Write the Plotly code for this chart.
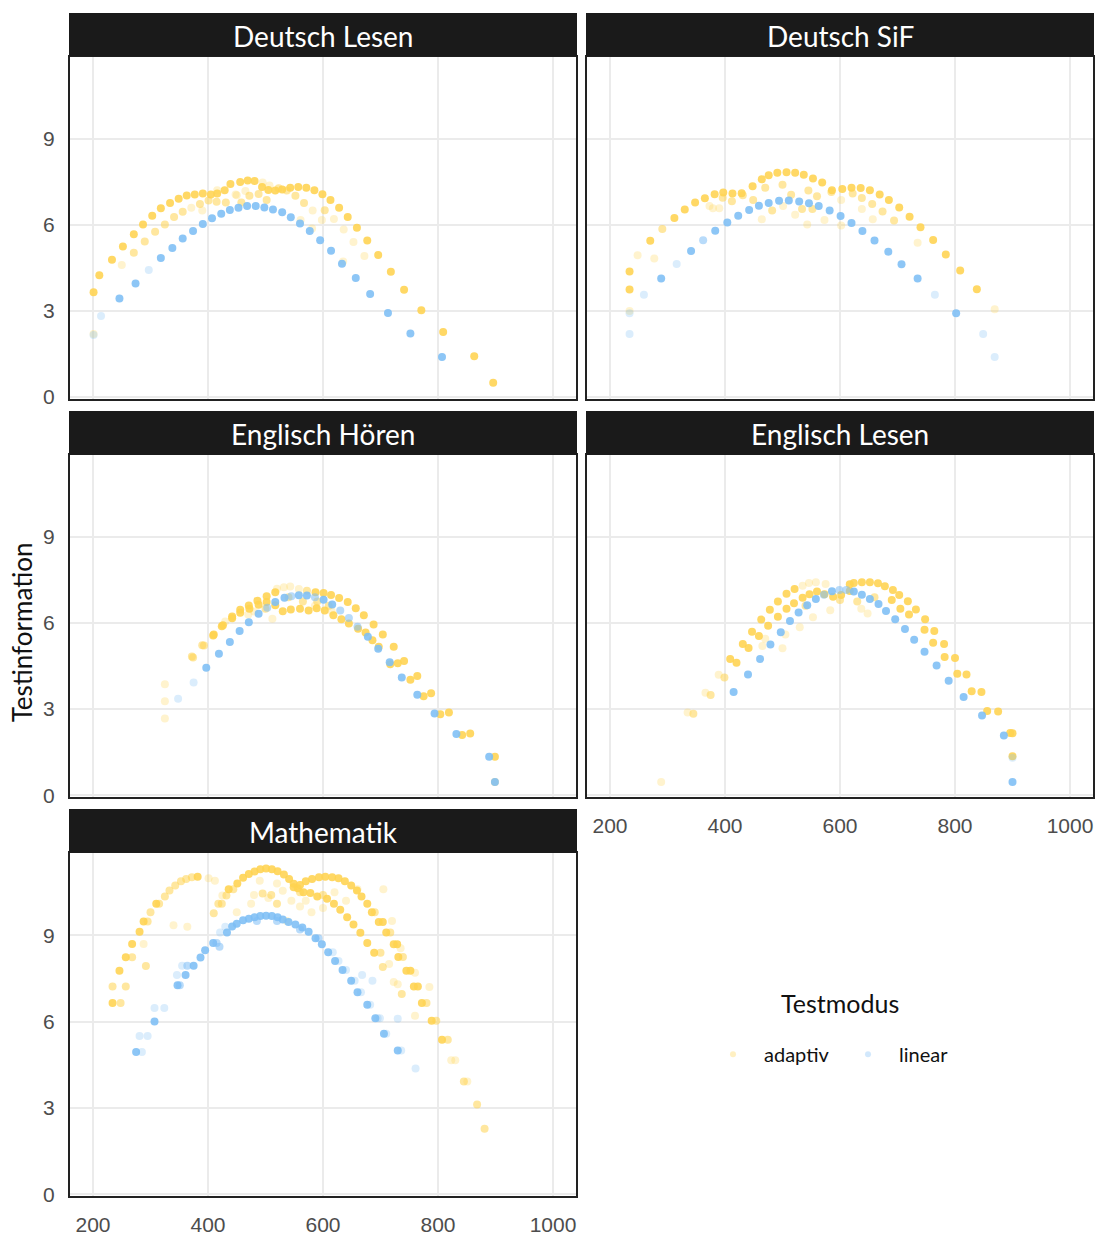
import plotly.graph_objects as go

# Testinformation je Testmodus und Fach: (Skalenwert, Information, Gewicht)
deutsch_lesen_adaptiv = [
    (201, 3.65, 3), (211, 4.25, 3), (233, 4.79, 3), (252, 5.25, 3), (271, 5.68, 3), (287, 6.02, 3),
    (303, 6.32, 3), (318, 6.58, 3), (334, 6.77, 3), (349, 6.91, 3), (363, 7.03, 3), (377, 7.06, 3),
    (391, 7.10, 3), (405, 7.06, 3), (416, 7.10, 3), (429, 7.21, 3), (439, 7.43, 3), (456, 7.50, 3),
    (469, 7.55, 3), (481, 7.53, 3), (494, 7.32, 3), (505, 7.22, 3), (517, 7.20, 3), (529, 7.24, 3),
    (543, 7.30, 3), (557, 7.32, 3), (571, 7.30, 3), (585, 7.21, 3), (599, 7.07, 3), (613, 6.87, 3),
    (628, 6.60, 3), (643, 6.28, 3), (659, 5.90, 3), (677, 5.46, 3), (696, 4.95, 3), (718, 4.37, 3),
    (741, 3.74, 3), (771, 3.03, 3), (809, 2.27, 3), (863, 1.42, 3), (896, 0.50, 3),
    (201, 2.20, 1), (250, 4.60, 1), (271, 5.03, 2), (290, 5.42, 2), (308, 5.76, 2), (325, 6.02, 2),
    (341, 6.28, 2), (356, 6.46, 2), (371, 6.60, 1), (386, 6.73, 2), (401, 6.85, 2), (415, 6.81, 2),
    (431, 6.78, 2), (448, 7.06, 1), (458, 6.78, 2), (472, 7.02, 2), (488, 7.08, 2), (502, 6.87, 2),
    (523, 7.28, 2), (537, 7.20, 2), (552, 7.02, 2), (567, 6.77, 2), (582, 6.50, 1), (603, 6.51, 2),
    (619, 6.21, 1), (636, 5.84, 1), (653, 5.41, 1), (672, 4.92, 1), (635, 4.73, 1),
    (390, 6.50, 1), (416, 7.21, 1), (450, 7.04, 1), (465, 7.18, 1), (495, 7.48, 1), (507, 7.38, 1),
    (561, 6.17, 1), (581, 5.88, 1), (598, 6.17, 1),
]
deutsch_lesen_linear = [
    (201, 2.16, 1), (214, 2.83, 1), (246, 3.44, 3), (274, 3.96, 3), (297, 4.43, 1), (318, 4.85, 3),
    (338, 5.20, 3), (356, 5.53, 3), (374, 5.79, 3), (391, 6.03, 3), (407, 6.23, 3), (423, 6.39, 3),
    (438, 6.52, 3), (453, 6.60, 3), (468, 6.66, 3), (483, 6.66, 3), (498, 6.61, 3), (513, 6.54, 3),
    (529, 6.44, 3), (544, 6.27, 3), (560, 6.05, 3), (577, 5.79, 3), (595, 5.47, 3), (614, 5.10, 3),
    (633, 4.65, 3), (657, 4.15, 3), (682, 3.59, 3), (713, 2.93, 3), (752, 2.22, 3), (807, 1.40, 3),
]

deutsch_sif_adaptiv = [
    (234, 3.75, 3), (234, 4.38, 3), (270, 5.45, 3), (291, 5.86, 2), (312, 6.24, 3), (330, 6.54, 3),
    (348, 6.78, 3), (365, 6.93, 3), (382, 7.07, 3), (397, 7.13, 3), (413, 7.10, 3), (429, 7.11, 3),
    (448, 7.35, 3), (464, 7.59, 3), (476, 7.73, 3), (491, 7.82, 3), (507, 7.84, 3), (522, 7.82, 3),
    (537, 7.75, 3), (553, 7.62, 3), (569, 7.48, 3), (586, 7.21, 3), (604, 7.25, 3), (620, 7.30, 3),
    (636, 7.29, 3), (652, 7.21, 3), (669, 7.06, 3), (685, 6.87, 3), (703, 6.61, 3), (721, 6.29, 3),
    (740, 5.92, 3), (762, 5.48, 3), (784, 4.97, 3), (809, 4.41, 3), (838, 3.76, 3), (869, 3.06, 1),
    (234, 3.00, 1), (248, 4.94, 1), (277, 4.83, 1), (373, 6.66, 1), (379, 6.58, 1), (390, 6.58, 1),
    (396, 6.95, 2), (412, 6.83, 2), (431, 7.04, 2), (449, 6.87, 2), (464, 6.20, 1), (482, 6.50, 2),
    (501, 6.66, 1), (522, 6.36, 1), (534, 6.56, 2), (543, 6.02, 1), (552, 6.56, 2), (573, 6.17, 1),
    (602, 5.98, 1), (602, 6.87, 1), (622, 7.10, 2), (638, 6.94, 2), (638, 6.56, 1), (656, 6.73, 2),
    (657, 6.20, 1), (674, 6.47, 2), (694, 6.16, 2), (735, 5.38, 1),
    (470, 7.30, 2), (500, 7.40, 2), (515, 7.05, 2), (545, 7.20, 2), (560, 7.00, 2), (585, 7.15, 2),
]
deutsch_sif_linear = [
    (234, 2.20, 1), (234, 2.92, 1), (259, 3.57, 1), (289, 4.13, 3), (316, 4.64, 1), (341, 5.09, 3),
    (362, 5.47, 2), (383, 5.80, 3), (404, 6.09, 3), (423, 6.32, 3), (442, 6.52, 3), (459, 6.67, 3),
    (476, 6.77, 3), (494, 6.84, 3), (511, 6.85, 3), (529, 6.82, 3), (546, 6.76, 3), (563, 6.66, 3),
    (582, 6.50, 3), (601, 6.31, 3), (620, 6.07, 3), (639, 5.79, 3), (660, 5.46, 3), (684, 5.07, 3),
    (707, 4.63, 3), (735, 4.13, 3), (765, 3.57, 1), (802, 2.92, 3), (849, 2.20, 1), (869, 1.40, 1),
]

englisch_hoeren_adaptiv = [
    (325, 3.87, 1), (325, 3.27, 1), (325, 2.67, 1), (372, 4.83, 2), (390, 5.23, 2), (410, 5.60, 3),
    (426, 5.92, 3), (442, 6.23, 3), (456, 6.46, 3), (471, 6.61, 3), (486, 6.78, 3), (502, 6.93, 3),
    (517, 7.07, 3), (532, 7.25, 1), (543, 7.27, 1), (558, 7.19, 1), (572, 7.13, 2), (587, 7.07, 3),
    (601, 7.05, 3), (614, 6.98, 3), (628, 6.87, 3), (643, 6.73, 3), (657, 6.52, 3), (671, 6.27, 3),
    (688, 5.95, 3), (704, 5.60, 3), (723, 5.17, 3), (741, 4.68, 3), (764, 4.15, 3), (788, 3.55, 3),
    (819, 2.88, 3), (856, 2.15, 3), (899, 1.34, 3), (899, 0.46, 2),
    (374, 4.80, 2), (393, 5.22, 2), (409, 5.57, 3), (424, 5.89, 3), (442, 6.17, 3), (456, 6.36, 3),
    (472, 6.50, 3), (488, 6.64, 3), (502, 6.73, 3), (517, 6.62, 3), (530, 6.41, 3), (544, 6.47, 3),
    (560, 6.50, 3), (575, 6.44, 3), (589, 6.52, 3), (603, 6.44, 3), (618, 6.27, 3), (632, 6.13, 3),
    (645, 5.98, 3), (661, 5.80, 3), (674, 5.67, 3), (686, 5.40, 3), (697, 5.17, 3), (717, 4.56, 3),
    (730, 4.60, 3), (752, 4.02, 3), (775, 3.45, 3), (804, 2.82, 3), (842, 2.10, 3),
    (512, 6.15, 1), (586, 6.60, 1), (615, 6.42, 1), (480, 6.40, 1), (520, 7.20, 1), (540, 6.90, 2),
    (565, 6.75, 2), (590, 6.75, 2), (610, 6.60, 2), (500, 6.50, 2), (470, 6.30, 1), (430, 6.05, 1),
]
englisch_hoeren_linear = [
    (348, 3.36, 1), (375, 3.93, 1), (397, 4.44, 3), (419, 4.93, 3), (438, 5.34, 3), (455, 5.72, 3),
    (471, 6.03, 3), (488, 6.32, 3), (503, 6.53, 2), (517, 6.73, 3), (533, 6.88, 3), (545, 6.93, 2),
    (558, 6.97, 3), (572, 6.96, 3), (586, 6.90, 2), (601, 6.81, 3), (616, 6.65, 3), (630, 6.44, 2),
    (645, 6.18, 2), (660, 5.87, 2), (678, 5.52, 3), (696, 5.10, 3), (716, 4.63, 3), (737, 4.10, 3),
    (764, 3.50, 3), (794, 2.85, 3), (832, 2.13, 3), (889, 1.34, 3), (899, 0.46, 3),
]

englisch_lesen_adaptiv = [
    (289, 0.46, 1), (335, 2.88, 1), (345, 2.84, 2), (366, 3.57, 1), (375, 3.49, 2), (389, 4.20, 1),
    (399, 4.10, 2), (409, 4.75, 3), (420, 4.62, 3), (431, 5.27, 3), (441, 5.13, 3), (447, 5.70, 3),
    (459, 5.55, 3), (463, 6.12, 3), (475, 5.91, 3), (478, 6.46, 3), (492, 6.22, 3), (492, 6.75, 3),
    (507, 6.50, 3), (507, 7.02, 3), (520, 6.69, 3), (521, 7.19, 3), (535, 6.88, 3), (535, 7.30, 1),
    (546, 7.40, 1), (558, 7.42, 1), (575, 7.36, 1), (547, 7.00, 3), (560, 7.10, 3), (573, 7.00, 3),
    (588, 6.92, 3), (602, 6.98, 3), (617, 7.12, 3), (617, 7.35, 3), (624, 7.40, 3), (638, 7.42, 3),
    (652, 7.42, 3), (666, 7.39, 3), (678, 7.28, 3), (692, 7.15, 3), (703, 6.98, 3), (718, 6.76, 3),
    (732, 6.47, 3), (748, 6.13, 3), (764, 5.72, 3), (781, 5.27, 3), (800, 4.78, 3), (820, 4.21, 3),
    (846, 3.60, 3), (875, 2.92, 3), (900, 2.16, 3), (900, 1.36, 3),
    (747, 5.77, 3), (762, 5.31, 3), (782, 4.82, 3), (804, 4.23, 3), (829, 3.62, 3), (856, 2.93, 3),
    (896, 2.17, 3), (690, 6.80, 3), (705, 6.50, 3), (720, 6.30, 3),
    (465, 5.20, 1), (500, 5.12, 1), (530, 5.85, 1), (553, 6.20, 1), (583, 6.45, 1), (637, 6.50, 1),
    (648, 6.33, 1), (540, 6.60, 2), (600, 6.80, 2), (630, 6.75, 2), (660, 6.90, 2), (470, 5.45, 1),
    (505, 5.60, 1),
]
englisch_lesen_linear = [
    (415, 3.60, 3), (440, 4.21, 3), (461, 4.75, 3), (479, 5.25, 3), (497, 5.68, 3), (513, 6.07, 3),
    (528, 6.37, 3), (543, 6.62, 3), (558, 6.84, 3), (572, 6.99, 2), (586, 7.11, 3), (599, 7.15, 2),
    (611, 7.15, 2), (624, 7.10, 3), (638, 6.99, 3), (652, 6.84, 3), (667, 6.66, 3), (680, 6.42, 3),
    (696, 6.13, 3), (713, 5.79, 3), (729, 5.42, 3), (747, 5.00, 3), (768, 4.52, 3), (789, 3.99, 3),
    (815, 3.42, 3), (847, 2.78, 3), (885, 2.08, 3), (900, 1.30, 1), (900, 0.46, 3),
]

mathematik_adaptiv = [
    (234, 6.65, 3), (248, 6.65, 2), (234, 7.22, 2), (257, 7.22, 2), (246, 7.77, 3), (257, 8.24, 3),
    (268, 8.24, 2), (268, 8.70, 3), (288, 8.70, 1), (281, 9.12, 3), (288, 9.48, 3), (295, 9.48, 2),
    (300, 9.80, 2), (310, 10.10, 3), (315, 10.10, 2), (325, 10.35, 2), (333, 10.56, 2), (343, 10.73, 2),
    (353, 10.88, 2), (362, 10.96, 2), (372, 11.02, 2), (382, 11.04, 3), (401, 10.98, 1), (412, 10.90, 1),
    (292, 7.93, 2), (340, 9.35, 1), (364, 9.30, 1),
    (410, 9.77, 2), (418, 10.10, 2), (424, 10.10, 2), (432, 10.38, 2), (436, 10.60, 3), (444, 10.60, 2),
    (451, 10.80, 3), (461, 11.00, 3), (471, 11.13, 3), (481, 11.22, 3), (491, 11.30, 3), (501, 11.32, 3),
    (511, 11.30, 3), (521, 11.23, 3), (532, 11.11, 3), (541, 10.96, 3), (549, 10.79, 3), (556, 10.64, 3),
    (566, 10.50, 3), (578, 10.47, 3), (590, 10.35, 3), (607, 10.27, 3), (619, 10.10, 3), (630, 9.89, 3),
    (642, 9.63, 3), (653, 9.38, 3), (665, 9.09, 3), (677, 8.73, 3), (689, 8.39, 3), (704, 7.90, 2),
    (723, 7.38, 1), (737, 6.96, 2),
    (549, 10.67, 3), (560, 10.75, 3), (570, 10.88, 3), (581, 10.96, 3), (593, 11.02, 3), (604, 11.04, 3),
    (616, 11.02, 3), (627, 10.98, 3), (638, 10.88, 3), (649, 10.73, 3), (659, 10.56, 3), (667, 10.35, 3),
    (677, 10.10, 3), (685, 9.80, 3), (697, 9.46, 3), (710, 9.10, 3), (723, 8.69, 3), (731, 8.25, 3),
    (745, 7.77, 3), (758, 7.22, 3), (772, 6.65, 3), (789, 6.03, 3), (807, 5.37, 3), (823, 4.66, 1),
    (845, 3.92, 2), (868, 3.12, 2), (881, 2.28, 2),
    (752, 7.77, 3), (765, 7.22, 3), (780, 6.65, 2), (797, 6.03, 2), (817, 5.37, 2), (830, 4.66, 1),
    (851, 3.92, 1), (690, 9.80, 2), (704, 9.46, 3), (717, 9.10, 2), (729, 8.69, 3), (739, 8.25, 2),
    (700, 8.39, 2), (715, 8.00, 1), (730, 7.30, 1),
    (425, 10.38, 1), (490, 10.90, 1), (505, 10.30, 1), (520, 10.80, 1), (530, 10.55, 1), (545, 10.20, 1),
    (560, 10.00, 1), (537, 9.50, 1), (580, 9.80, 1), (600, 9.95, 1), (450, 9.80, 1), (475, 10.10, 1),
    (570, 10.20, 1), (520, 10.10, 2), (510, 10.40, 2), (495, 10.45, 2), (480, 10.40, 1), (560, 10.50, 2),
    (600, 10.40, 2), (620, 10.50, 1), (640, 10.20, 1), (660, 10.60, 1), (705, 10.60, 1), (720, 9.50, 1),
    (735, 8.55, 1), (760, 7.70, 1), (760, 6.20, 1), (785, 7.20, 1),
]
mathematik_linear = [
    (275, 4.94, 3), (285, 4.94, 1), (281, 5.50, 1), (295, 5.50, 1), (307, 6.00, 3), (307, 6.47, 1),
    (324, 6.47, 1), (347, 7.26, 3), (351, 7.26, 2), (346, 7.62, 1), (361, 7.62, 3), (355, 7.94, 1),
    (364, 7.94, 2), (375, 7.94, 3), (387, 8.23, 3), (395, 8.48, 3), (409, 8.73, 3), (415, 8.73, 2),
    (421, 9.10, 1), (433, 9.10, 3), (442, 9.31, 3), (450, 9.40, 3), (461, 9.52, 3), (471, 9.58, 3),
    (481, 9.63, 3), (491, 9.67, 3), (501, 9.68, 3), (511, 9.67, 3), (521, 9.63, 3), (530, 9.55, 3),
    (540, 9.46, 3), (552, 9.38, 3), (564, 9.27, 3), (575, 9.12, 3), (587, 8.90, 3), (592, 8.90, 2),
    (598, 8.69, 3), (609, 8.41, 3), (621, 8.11, 3), (627, 8.11, 1), (634, 7.79, 3), (640, 7.79, 1),
    (649, 7.42, 3), (655, 7.42, 1), (660, 7.02, 3), (666, 7.02, 1), (677, 6.59, 3), (682, 6.59, 1),
    (691, 6.12, 3), (695, 6.12, 1), (699, 6.12, 1), (706, 5.58, 3), (710, 5.58, 1), (730, 5.00, 3),
    (736, 5.00, 1), (761, 4.37, 1), (730, 6.10, 1), (617, 8.41, 1), (668, 7.62, 1), (686, 7.42, 1),
    (420, 8.60, 2), (430, 9.30, 1), (485, 9.50, 2), (520, 9.50, 2), (560, 9.20, 2),
]

faecher = ["Deutsch Lesen", "Deutsch SiF", "Englisch Hören", "Englisch Lesen", "Mathematik"]
daten = {
    "Deutsch Lesen": (deutsch_lesen_adaptiv, deutsch_lesen_linear),
    "Deutsch SiF": (deutsch_sif_adaptiv, deutsch_sif_linear),
    "Englisch Hören": (englisch_hoeren_adaptiv, englisch_hoeren_linear),
    "Englisch Lesen": (englisch_lesen_adaptiv, englisch_lesen_linear),
    "Mathematik": (mathematik_adaptiv, mathematik_linear),
}
x_ticks = [200, 400, 600, 800, 1000]
y_ticks = [0, 3, 6, 9]

W, H = 1101, 1237
GELB = (255, 211, 80)
BLAU = (125, 190, 245)
ALPHA = {1: 0.28, 2: 0.55, 3: 0.88}
TEXT_FONT = "Lato, Inter"
TICK_FONT = dict(family="Liberation Sans, Arial", size=21, color="#4d4d4d")

# panel boxes in pixels: columns (left, right), rows (strip top, plot top, plot bottom)
spalten = [(70, 576), (587, 1093)]
zeilen = [(13, 57, 402), (414, 458, 803), (815, 859, 1205)]
positionen = [(0, 0), (0, 1), (1, 0), (1, 1), (2, 0)]


def px(v):
    return v / W


def py(v):
    return 1 - v / H


def rgba(c, a):
    return f"rgba({c[0]},{c[1]},{c[2]},{a})"


fig = go.Figure()
layout = {}
shapes = []
annotations = []

for i, fach in enumerate(faecher):
    r, c = positionen[i]
    left, right = spalten[c]
    s_top, p_top, p_bot = zeilen[r]
    suffix = "" if i == 0 else str(i + 1)
    xa, ya = "x" + suffix, "y" + suffix

    adaptiv, linear = daten[fach]
    for pts, col in ((adaptiv, GELB), (linear, BLAU)):
        fig.add_trace(go.Scatter(
            x=[p[0] for p in pts], y=[p[1] for p in pts], mode="markers",
            marker=dict(size=8, color=[rgba(col, ALPHA[p[2]]) for p in pts], line=dict(width=0)),
            xaxis=xa, yaxis=ya, showlegend=False, hoverinfo="x+y",
        ))

    x_labels = (r == 2 and c == 0) or (r == 1 and c == 1)
    common = dict(showgrid=True, gridcolor="#ebebeb", gridwidth=2, zeroline=False,
                  showline=True, mirror=True, linecolor="#222222", linewidth=2,
                  ticks="outside", tickcolor="rgba(0,0,0,0)", tickfont=TICK_FONT)
    layout["xaxis" + suffix] = dict(
        domain=[px(left), px(right)], anchor=ya, range=[160, 1040],
        tickvals=x_ticks, showticklabels=x_labels, ticklen=9, **common,
    )
    layout["yaxis" + suffix] = dict(
        domain=[py(p_bot), py(p_top)], anchor=xa, range=[-0.07, 11.87],
        tickvals=y_ticks, showticklabels=(c == 0), ticklen=9, **common,
    )
    shapes.append(dict(type="rect", xref="paper", yref="paper",
                       x0=px(left - 1), x1=px(right + 1), y0=py(p_top), y1=py(s_top),
                       fillcolor="#1a1a1a", line=dict(width=0), layer="above"))
    annotations.append(dict(text=fach, xref="paper", yref="paper",
                            x=px((left + right) / 2), y=py((s_top + p_top) / 2 + 1),
                            xanchor="center", yanchor="middle", showarrow=False,
                            font=dict(family=TEXT_FONT, size=28, color="white")))

annotations.append(dict(text="Testinformation", xref="paper", yref="paper",
                        x=px(22), y=py(637), textangle=-90, showarrow=False,
                        xanchor="center", yanchor="middle",
                        font=dict(family=TEXT_FONT, size=26, color="#111111")))
annotations.append(dict(text="Testmodus", xref="paper", yref="paper",
                        x=px(840), y=py(1010), showarrow=False,
                        xanchor="center", yanchor="middle",
                        font=dict(family=TEXT_FONT, size=25, color="#111111")))

# legend entries
for name, col in (("adaptiv", GELB), ("linear", BLAU)):
    fig.add_trace(go.Scatter(x=[None], y=[None], mode="markers", name=name,
                             marker=dict(size=6, color=rgba(col, 0.35)), showlegend=True))

fig.update_layout(
    width=W, height=H, margin=dict(l=0, r=0, t=0, b=0),
    paper_bgcolor="white", plot_bgcolor="white",
    shapes=shapes, annotations=annotations,
    legend=dict(orientation="h", x=px(702), y=py(1062), xanchor="left", yanchor="middle",
                font=dict(family=TEXT_FONT, size=20, color="#111111"),
                itemwidth=52, entrywidth=68, bgcolor="rgba(0,0,0,0)"),
    **layout,
)

fig.write_html("out.html")
